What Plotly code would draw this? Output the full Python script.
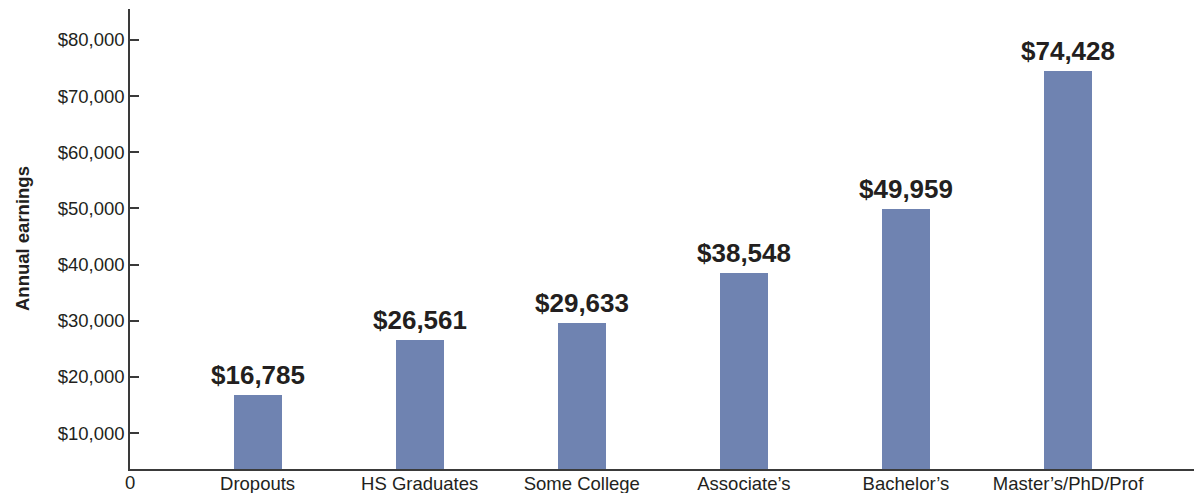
import plotly.graph_objects as go

# Annual earnings by highest level of education
categories = ["Dropouts", "HS Graduates", "Some College", "Associate\u2019s", "Bachelor\u2019s",
              "Master\u2019s/PhD/Prof"]
earnings = [16785, 26561, 29633, 38548, 49959, 74428]
tick_values = [10000, 20000, 30000, 40000, 50000, 60000, 70000, 80000]
tick_labels = ["$10,000", "$20,000", "$30,000", "$40,000", "$50,000", "$60,000", "$70,000", "$80,000"]

BAR_COLOR = "#6f83b1"
TEXT_COLOR = "#231f20"
AXIS_COLOR = "#3a3a3a"
FONT = "Liberation Sans, Arial, sans-serif"

fig = go.Figure(
    go.Bar(
        x=categories,
        y=earnings,
        marker=dict(color=BAR_COLOR, line=dict(width=0)),
        width=0.296,
        hoverinfo="skip",
    )
)

# bold value labels above each bar
for cat, val in zip(categories, earnings):
    fig.add_annotation(
        x=cat, y=val, xref="x", yref="y",
        text=f"<b>${val:,}</b>",
        showarrow=False, yanchor="bottom", xanchor="center",
        yshift=3,
        font=dict(family=FONT, size=26, color=TEXT_COLOR),
    )

# origin label at the corner of the axes
fig.add_annotation(
    x=0, y=0, xref="paper", yref="paper",
    text="0", showarrow=False, xanchor="center", yanchor="top",
    yshift=-1,
    font=dict(family=FONT, size=18.5, color=TEXT_COLOR),
)

# vertical axis title
fig.add_annotation(
    x=-0.1015, y=0.5, xref="paper", yref="paper",
    text="<b>Annual earnings</b>", textangle=-90,
    showarrow=False, xanchor="center", yanchor="middle",
    font=dict(family=FONT, size=18.5, color=TEXT_COLOR),
)

fig.update_layout(
    width=1194, height=493,
    margin=dict(l=130, r=0, t=9, b=24, pad=0, autoexpand=False),
    paper_bgcolor="white", plot_bgcolor="white",
    showlegend=False,
    font=dict(family=FONT, color=TEXT_COLOR),
    bargap=0,
)

fig.update_xaxes(
    type="category",
    range=[-0.787, 5.777],
    automargin=False,
    showline=True, linecolor=AXIS_COLOR, linewidth=1.5,
    showgrid=False, zeroline=False,
    ticks="", ticklabelstandoff=-3,
    tickfont=dict(family=FONT, size=18.5, color=TEXT_COLOR),
)

fig.update_yaxes(
    range=[3605, 85507],
    automargin=False,
    tickvals=tick_values, ticktext=tick_labels,
    showline=True, linecolor=AXIS_COLOR, linewidth=1.5,
    showgrid=False, zeroline=False,
    ticks="inside", ticklen=9, tickwidth=1.5, tickcolor=AXIS_COLOR,
    tickfont=dict(family=FONT, size=18.5, color=TEXT_COLOR),
)

fig.write_html("out.html")
